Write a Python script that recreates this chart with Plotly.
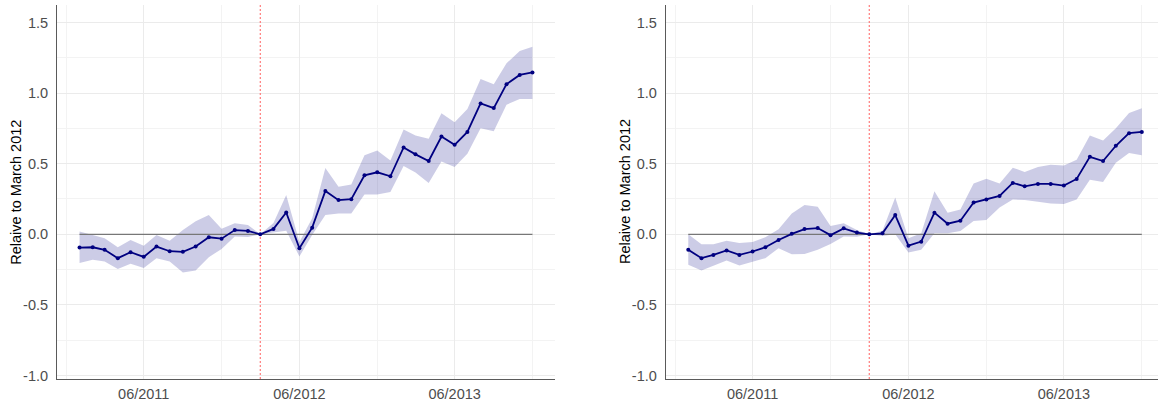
import plotly.graph_objects as go
import pandas as pd

months = pd.date_range("2011-01-01", "2013-12-01", freq="MS")

# Left panel
est_left = [-0.094, -0.092, -0.110, -0.169, -0.127, -0.160, -0.087, -0.120, -0.124, -0.087, -0.021, -0.031,
            0.030, 0.024, 0.0, 0.038, 0.154, -0.099, 0.047, 0.307, 0.242, 0.249, 0.418, 0.439,
            0.411, 0.615, 0.566, 0.519, 0.692, 0.634, 0.725, 0.927, 0.894, 1.063, 1.129, 1.146]
upper_left = [0.019, -0.005, -0.028, -0.092, -0.040, -0.082, -0.005, -0.045, 0.031, 0.092, 0.137, 0.040,
              0.078, 0.065, 0.0, 0.080, 0.278, -0.055, 0.113, 0.469, 0.336, 0.352, 0.559, 0.594,
              0.523, 0.742, 0.700, 0.676, 0.857, 0.793, 0.887, 1.099, 1.063, 1.211, 1.298, 1.329]
lower_left = [-0.204, -0.181, -0.192, -0.246, -0.209, -0.239, -0.169, -0.192, -0.270, -0.256, -0.162, -0.104,
              -0.016, -0.019, 0.0, 0.012, 0.025, -0.157, -0.005, 0.136, 0.148, 0.148, 0.282, 0.282,
              0.300, 0.484, 0.437, 0.364, 0.516, 0.477, 0.570, 0.751, 0.730, 0.918, 0.958, 0.958]

# Right panel
est_right = [-0.110, -0.169, -0.146, -0.115, -0.146, -0.122, -0.092, -0.040, 0.003, 0.037, 0.044, -0.006,
             0.042, 0.012, 0.0, 0.007, 0.136, -0.081, -0.052, 0.153, 0.075, 0.096, 0.225, 0.246,
             0.272, 0.364, 0.340, 0.357, 0.357, 0.345, 0.392, 0.549, 0.519, 0.627, 0.716, 0.725]
upper_right = [0.0, -0.070, -0.070, -0.045, -0.062, -0.055, -0.021, 0.035, 0.148, 0.207, 0.195, 0.059,
               0.078, 0.030, 0.0, 0.025, 0.261, -0.028, 0.007, 0.305, 0.153, 0.176, 0.359, 0.394,
               0.359, 0.472, 0.441, 0.477, 0.493, 0.488, 0.528, 0.700, 0.664, 0.751, 0.859, 0.892]
lower_right = [-0.216, -0.256, -0.223, -0.185, -0.221, -0.192, -0.169, -0.099, -0.142, -0.139, -0.110, -0.068,
               -0.015, -0.018, 0.0, -0.012, 0.0, -0.129, -0.110, 0.007, 0.007, 0.023, 0.094, 0.101,
               0.190, 0.246, 0.242, 0.230, 0.218, 0.214, 0.246, 0.387, 0.371, 0.507, 0.575, 0.559]

x_tick_vals = ["2011-06-01", "2012-06-01", "2013-06-01"]
x_tick_text = ["06/2011", "06/2012", "06/2013"]
x_minor_vals = ["2010-12-01", "2011-12-01", "2012-12-01", "2013-12-01"]
y_tick_vals = [-1.0, -0.5, 0.0, 0.5, 1.0, 1.5]
y_tick_text = ["-1.0", "-0.5", "0.0", "0.5", "1.0", "1.5"]
y_minor_vals = [-0.75, -0.25, 0.25, 0.75, 1.25]
reference_month = "2012-03-01"
y_title = "Relaive to March 2012"

NAVY = "#000080"
RIBBON = "rgba(0,0,128,0.2)"
RED = "#ff6f6f"

x_range_left = ["2010-11-09", "2014-01-23"]
x_range_right = ["2010-11-09", "2014-01-08"]   # right panel is cropped at the picture's edge
y_range = [-1.025, 1.624]

fig = go.Figure()

panels = [(est_left, upper_left, lower_left, "x", "y"),
          (est_right, upper_right, lower_right, "x2", "y2")]

for est, up, lo, xa, ya in panels:
    fig.add_trace(go.Scatter(x=months, y=lo, mode="lines", line=dict(width=0),
                             showlegend=False, hoverinfo="skip", xaxis=xa, yaxis=ya))
    fig.add_trace(go.Scatter(x=months, y=up, mode="lines", line=dict(width=0),
                             fill="tonexty", fillcolor=RIBBON,
                             showlegend=False, hoverinfo="skip", xaxis=xa, yaxis=ya))
    fig.add_trace(go.Scatter(x=[months[0], months[-1]], y=[0, 0], mode="lines",
                             line=dict(color="#777777", width=1.2),
                             showlegend=False, xaxis=xa, yaxis=ya))
    fig.add_trace(go.Scatter(x=[reference_month, reference_month], y=y_range, mode="lines",
                             line=dict(color=RED, width=1.1, dash="2px,2px"),
                             showlegend=False, xaxis=xa, yaxis=ya, cliponaxis=False))
    fig.add_trace(go.Scatter(x=months, y=est, mode="lines+markers",
                             line=dict(color=NAVY, width=1.8),
                             marker=dict(color=NAVY, size=4),
                             showlegend=False, xaxis=xa, yaxis=ya))

common_x = dict(type="date", tickmode="array", tickvals=x_tick_vals,
                ticktext=x_tick_text, showgrid=True, gridcolor="#ebebeb", gridwidth=1,
                minor=dict(tickmode="array", tickvals=x_minor_vals, showgrid=True,
                           gridcolor="#f3f3f3", gridwidth=1),
                showline=True, linecolor="#5a5a5a", linewidth=1, zeroline=False,
                ticks="", ticklabelstandoff=2, showspikes=False,
                tickfont=dict(size=14.5, color="#4d4d4d"), automargin=False)
common_y = dict(range=y_range, tickmode="array", tickvals=y_tick_vals, ticktext=y_tick_text,
                showgrid=True, gridcolor="#ebebeb", gridwidth=1,
                minor=dict(tickmode="array", tickvals=y_minor_vals, showgrid=True,
                           gridcolor="#f3f3f3", gridwidth=1),
                showline=True, linecolor="#5a5a5a", linewidth=1, zeroline=False,
                ticks="", ticklabelstandoff=5, showspikes=False,
                tickfont=dict(size=14.5, color="#4d4d4d"), automargin=False)

L, R = 57, 0
plot_w = 1158 - L - R

def px_to_paper(px):
    return (px - L) / plot_w

for title_px in (15.7, 625):
    fig.add_annotation(text=y_title, xref="paper", yref="paper",
                       x=px_to_paper(title_px), y=0.5, xanchor="center", yanchor="middle",
                       textangle=-90, showarrow=False,
                       font=dict(size=14.5, color="black"))

fig.update_layout(
    width=1158, height=402,
    margin=dict(l=L, r=R, t=5, b=23),
    paper_bgcolor="white", plot_bgcolor="white",
    hovermode=False,
    font=dict(family="Liberation Sans, Arial, sans-serif"),
    xaxis=dict(domain=[0, px_to_paper(555)], anchor="y", range=x_range_left, **common_x),
    yaxis=dict(domain=[0, 1], anchor="x", **common_y),
    xaxis2=dict(domain=[px_to_paper(665.7), 1], anchor="y2", range=x_range_right, **common_x),
    yaxis2=dict(domain=[0, 1], anchor="x2", **common_y),
)

fig.write_html("out.html", config={"displayModeBar": False},
               post_script="document.body.style.margin='0px';")
